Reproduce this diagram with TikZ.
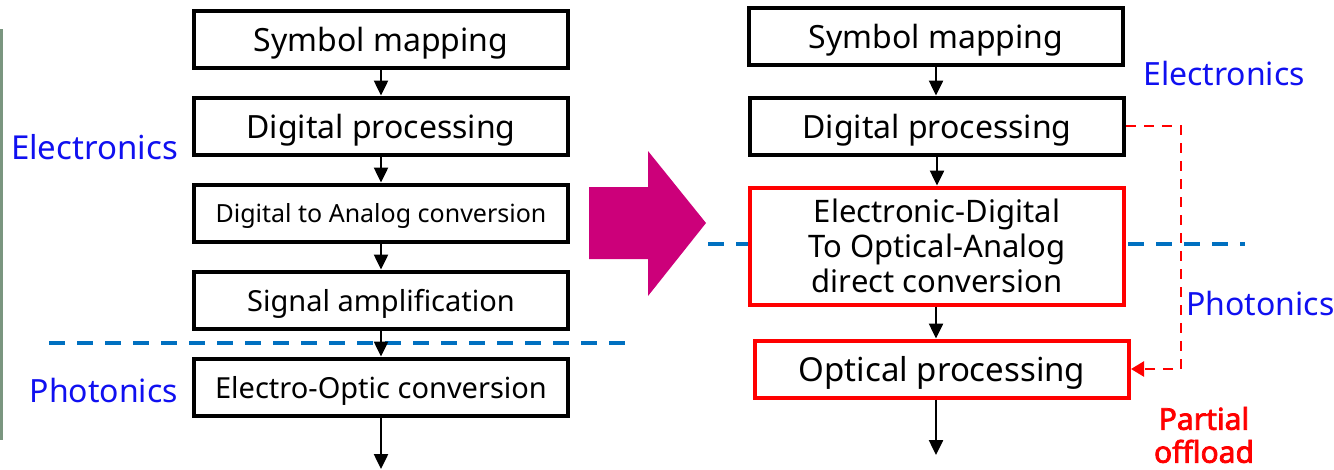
\documentclass[tikz,border=0pt]{standalone}
\usepackage{fontspec}
\setmainfont{Noto Sans}
\newfontfamily\offloadfont[FakeBold=2.5]{Noto Sans}
\usepackage{xcolor}
\usetikzlibrary{arrows.meta}

\definecolor{layerblue}{RGB}{16,16,240}
\definecolor{cutblue}{RGB}{0,112,192}
\definecolor{pushmagenta}{RGB}{204,0,122}
\definecolor{edgegreen}{RGB}{122,150,128}

\begin{document}
\begin{tikzpicture}[x=1pt,y=-1pt,
    box/.style={draw,line width=4pt,fill=white,minimum width=374pt,minimum height=57pt,
      inner sep=0pt,text depth=0pt,align=center,font=\fontsize{32}{35}\selectfont},
    redbox/.style={box,draw=red},
    flow/.style={-{Triangle[length=15pt,width=14pt]},line width=2.5pt},
    layer/.style={text=layerblue,inner sep=0pt,font=\fontsize{32}{35}\selectfont},
    cut/.style={draw=cutblue,line width=4pt,dash pattern=on 16pt off 12pt}]
    \useasboundingbox (0,0) rectangle (1334,469);
    \draw[draw=edgegreen,line width=3pt] (1.5,29) -- (1.5,440);
    \draw[cut] (49,343) -- (626,343);
    \draw[cut] (708,244) -- (1245,244);
    \fill[fill=pushmagenta] (589,187) -- (648,187) -- (648,151) -- (706,223)
      -- (648,296) -- (648,259) -- (589,259) -- cycle;

    % conventional chain
    \node[box] (map) at (381,39) {Symbol mapping};
    \node[box] (dsp) at (381,126) {Digital processing};
    \node[box,font=\fontsize{25}{30}\selectfont] (dac) at (381,213) {Digital to Analog conversion};
    \node[box,font=\fontsize{29}{35}\selectfont] (amp) at (381,300) {Signal amplification};
    \node[box,font=\fontsize{29}{35}\selectfont] (eo) at (381,387) {Electro-Optic conversion};
    \coordinate (leftend) at (381,469);
    \draw[flow] (map) -- (dsp);
    \draw[flow] (dsp) -- (dac);
    \draw[flow] (dac) -- (amp);
    \draw[flow] (amp) -- (eo);
    \draw[flow] (eo) -- (leftend);
    \node[layer,font=\fontsize{33}{35}\selectfont,anchor=east] (elecL) at (178,147) {Electronics};
    \node[layer,anchor=east] (photL) at (178,390) {Photonics};

    % direct conversion chain
    \node[box] (rmap) at (936,36) {Symbol mapping};
    \node[box] (rdsp) at (937,126) {Digital processing};
    \node[redbox,minimum height=117pt,font=\fontsize{31}{35}\selectfont] (direct) at (937,246)
      {Electronic-Digital\\To Optical-Analog\\direct conversion};
    \node[redbox,font=\fontsize{33}{35}\selectfont] (opt) at (942,369) {Optical processing};
    \coordinate (rightend) at (936,455);
    \draw[flow] (rmap) -- (rmap |- rdsp.north);
    \draw[flow] (rdsp) -- (direct);
    \draw[flow] (direct.south -| rightend) -- (opt.north -| rightend);
    \draw[flow] (opt.south -| rightend) -- (rightend);
    \draw[red,line width=2.5pt,dash pattern=on 10pt off 8pt,-{Triangle[length=13pt,width=15pt]}]
      (rdsp.east) -- ++(55,0) |- (opt.east);
    \node[layer,anchor=west] (elecR) at (1143,73) {Electronics};
    \node[layer,anchor=west] (photR) at (1186,303) {Photonics};
    \node[text=red,align=center,font=\offloadfont\fontsize{30}{33}\selectfont] (partial) at (1204,435) {Partial\\offload};
\end{tikzpicture}
\end{document}
